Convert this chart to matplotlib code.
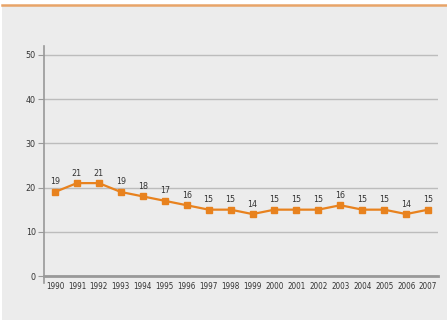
import matplotlib.pyplot as plt
from matplotlib import font_manager
from matplotlib.patches import Rectangle
from matplotlib.lines import Line2D

years = list(range(1990, 2008))
values = [19, 21, 21, 19, 18, 17, 16, 15, 15, 14, 15, 15, 15, 16, 15, 15, 14, 15]
yticks = [0, 10, 20, 30, 40, 50]

orange = '#e8821e'
grid_col = '#bcbcbc'
text_col = '#333333'

# DejaVu Sans Condensed is closest to the narrow face in the reference
cond = [f.fname for f in font_manager.fontManager.ttflist
        if f.fname.endswith('DejaVuSansCondensed.ttf')]

def fp(size):
    if cond:
        return font_manager.FontProperties(fname=cond[0], size=size)
    return font_manager.FontProperties(family='DejaVu Sans', size=size * 0.9)

fig = plt.figure(figsize=(4.47, 3.2), dpi=100)
fig.patch.set_facecolor('white')
fig.patches.append(Rectangle((2 / 447, 0), 445 / 447, 1 - 6 / 320,
                             transform=fig.transFigure, facecolor='#ececec',
                             edgecolor='none', zorder=-10))
fig.lines.append(Line2D([2 / 447, 1], [1 - 5 / 320, 1 - 5 / 320],
                        transform=fig.transFigure, color='#e8a468', lw=1.8,
                        zorder=-5))

ax = fig.add_axes([44 / 447, 44 / 320, 394 / 447, 230 / 320])
ax.set_facecolor('none')
ax.plot(years, values, color=orange, lw=1.6, marker='s', ms=5,
        markeredgecolor=orange, zorder=3)
for x, v in zip(years, values):
    ax.annotate(str(v), (x, v), xytext=(0, 4), textcoords='offset points',
                ha='center', va='bottom', fontproperties=fp(6.4), color=text_col)

ax.set_xlim(1989.5, 2007.45)
ax.set_ylim(0, 52)
ax.set_yticks(yticks)
ax.set_xticks(years)
ax.set_yticklabels([str(t) for t in yticks], fontproperties=fp(6.4))
ax.set_xticklabels([str(y) for y in years], fontproperties=fp(5.8))
ax.yaxis.grid(True, color=grid_col, lw=1)
ax.set_axisbelow(True)
for s in ['top', 'right']:
    ax.spines[s].set_visible(False)
ax.spines['left'].set_color('#999999')
ax.spines['left'].set_linewidth(1.2)
ax.spines['left'].set_bounds(-1.5, 52)
ax.spines['bottom'].set_color('#999999')
ax.spines['bottom'].set_linewidth(2)
ax.tick_params(axis='y', length=4, width=0.8, color='#999999',
               labelcolor=text_col, pad=2)
ax.tick_params(axis='x', length=0, labelcolor=text_col, pad=4)

fig.savefig('out.png', dpi=100)
